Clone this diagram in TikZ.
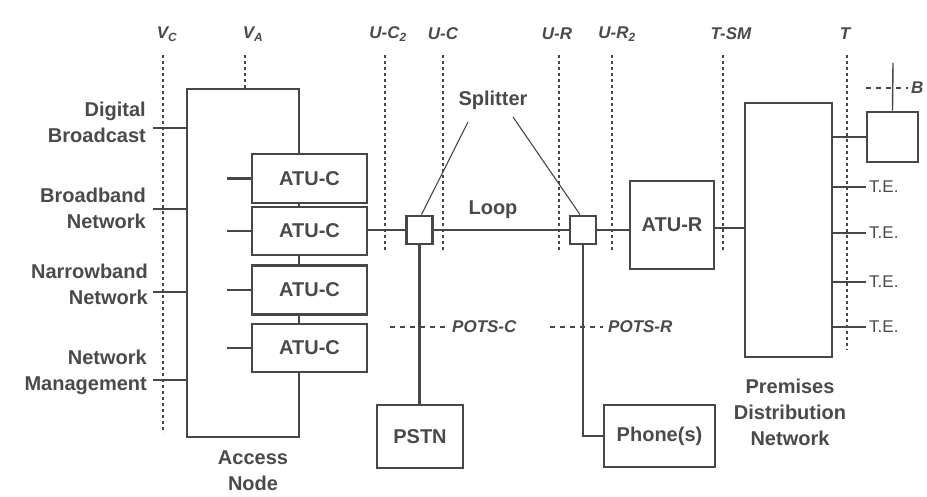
\documentclass[tikz,border=0pt]{standalone}
\usepackage{fontspec}
\setmainfont{Liberation Sans}
\definecolor{ln}{HTML}{474747}
\definecolor{tx}{HTML}{4A4A4A}
\newcommand\mylbl{\fontsize{20}{26}\selectfont\bfseries}
\newcommand\myif{\fontsize{17}{19}\selectfont\itshape\bfseries}
\newcommand\myte{\fontsize{17}{20}\selectfont}
\begin{document}
\begin{tikzpicture}[x=1pt,y=-1pt,
  box/.style={draw=ln,line width=2.8pt,fill=white,inner sep=0pt,text=tx,font=\mylbl},
  wire/.style={draw=ln,line width=2.6pt},
  thin/.style={draw=ln,line width=1.1pt},
  dotline/.style={draw=ln,line width=1.3pt,dash pattern=on 2.5pt off 3.5pt},
  dashline/.style={draw=ln,line width=1.3pt,dash pattern=on 5pt off 5pt},
  lab/.style={text=tx,font=\mylbl,inner sep=0pt},
  iflab/.style={text=tx,font=\myif,inner sep=0pt},
  telab/.style={text=tx,font=\myte,inner sep=0pt,anchor=west}]
\useasboundingbox[fill=white] (0,0) rectangle (927,496);

% dotted reference lines
\coordinate (vct) at (163,55);  \coordinate (vcb) at (163,433);
\coordinate (vat) at (245,55);  \coordinate (vab) at (245,428);
\coordinate (uc2t) at (385,55); \coordinate (uc2b) at (385,252);
\coordinate (uct) at (443,55);  \coordinate (ucb) at (443,252);
\coordinate (urt) at (559,55);  \coordinate (urb) at (559,252);
\coordinate (ur2t) at (612,55); \coordinate (ur2b) at (612,252);
\coordinate (tsmt) at (723,55); \coordinate (tsmb) at (723,250);
\coordinate (tt) at (847,55);   \coordinate (tb) at (847,350);
\foreach \a/\b in {vct/vcb,vat/vab,uc2t/uc2b,uct/ucb,urt/urb,ur2t/ur2b,tsmt/tsmb,tt/tb}
  \draw[dotline] (\a) -- (\b);

\node[iflab] (lvc) at (167,34) {V\textsubscript{C}};
\node[iflab] (lva) at (253,34) {V\textsubscript{A}};
\node[iflab] (luc2) at (388,34) {U-C\textsubscript{2}};
\node[iflab] (luc) at (443,34) {U-C};
\node[iflab] (lur) at (557,34) {U-R};
\node[iflab] (lur2) at (617,34) {U-R\textsubscript{2}};
\node[iflab] (ltsm) at (731,34) {T-SM};
\node[iflab] (lt) at (845,34) {T};

% access node
\node[box,minimum width=112pt,minimum height=348pt] (access) at (243,263) {};
\node[box,minimum width=115pt,minimum height=49pt] (atu1) at (309.5,178.5) {ATU-C};
\node[box,minimum width=115pt,minimum height=48pt] (atu2) at (309.5,231) {ATU-C};
\node[box,minimum width=115pt,minimum height=49pt] (atu3) at (309.5,290) {ATU-C};
\node[box,minimum width=115pt,minimum height=48pt] (atu4) at (309.5,348) {ATU-C};
\foreach \n in {atu1,atu2,atu3,atu4}
  \draw[wire] (\n.west) -- ++(-24,0);

% left inputs
\coordinate (db) at (153,128);
\coordinate (bb) at (153,209);
\coordinate (nb) at (153,292);
\coordinate (nm) at (153,380);
\foreach \c in {db,bb,nb,nm}
  \draw[wire] (\c) -- (\c -| access.west);
\node[lab,align=right,anchor=east] (ldb) at (146,122) {Digital\\Broadcast};
\node[lab,align=right,anchor=east] (lbb) at (146,208) {Broadband\\Network};
\node[lab,align=right,anchor=east] (lnb) at (148,284) {Narrowband\\Network};
\node[lab,align=right,anchor=east] (lnm) at (147,372) {Network\\Management};
\node[lab,align=center] (lan) at (253,471) {Access\\Node};

% splitters and loop
\node[box,minimum width=26pt,minimum height=28pt] (sp1) at (419.5,230) {};
\node[box,minimum width=26pt,minimum height=28pt] (sp2) at (583,230) {};
\draw[wire] (sp1.west -| atu2.east) -- (sp1.west);
\draw[wire] (sp1.east) -- (sp2.west);
\node[lab] (lloop) at (493,210) {Loop};
\node[lab] (lsplit) at (493,100) {Splitter};
\coordinate (p1) at (468,122);
\coordinate (p2) at (513,117);
\draw[thin] (p1) -- ([xshift=2pt]sp1.north);
\draw[thin] (p2) -- ([xshift=-3pt]sp2.north);

% ATU-R
\node[box,minimum width=84pt,minimum height=88pt] (atur) at (672,225) {ATU-R};
\draw[wire] (sp2.east) -- (sp2.east -| atur.west);

% premises
\node[box,minimum width=87pt,minimum height=254pt] (prem) at (788.5,230) {};
\draw[wire] (atur.east |- 0,228) -- (prem.west |- 0,228);
\node[lab,align=center] (lprem) at (790,412) {Premises\\Distribution\\Network};

\node[box,minimum width=51pt,minimum height=50pt] (sbox) at (892.5,137) {};
\draw[wire] (sbox.west -| prem.east) -- (sbox.west);
\coordinate (ant) at (893,63);
\draw[thin,line width=1.4pt] (sbox.north) -- (ant);
\coordinate (bl) at (866,88);
\coordinate (br) at (908,88);
\draw[dashline] (bl) -- (br);
\node[iflab,anchor=west] (lb) at (911,88) {B};

% T.E.
\foreach \y/\n in {187/te1,233/te2,282/te3,327/te4}{
  \coordinate (\n) at (866,\y);
  \draw[wire] (\n -| prem.east) -- (\n);
  \node[telab] at ([xshift=3pt]\n) {T.E.};
}

% PSTN and phones
\node[box,minimum width=86pt,minimum height=63pt] (pstn) at (420,436.5) {PSTN};
\node[box,minimum width=111pt,minimum height=62pt] (phone) at (659.5,436) {Phone(s)};
\draw[wire] (sp1.south) -- (sp1.south |- pstn.north);
\draw[wire] (sp2.south) |- (phone.west);

% POTS
\coordinate (pc1) at (390,327); \coordinate (pc2) at (447,327);
\coordinate (pr1) at (550,327); \coordinate (pr2) at (603,327);
\draw[dashline] (pc1) -- (pc2);
\draw[dashline] (pr1) -- (pr2);
\node[iflab,anchor=west] (lpc) at (452,327) {POTS-C};
\node[iflab,anchor=west] (lpr) at (608,327) {POTS-R};
\end{tikzpicture}
\end{document}
